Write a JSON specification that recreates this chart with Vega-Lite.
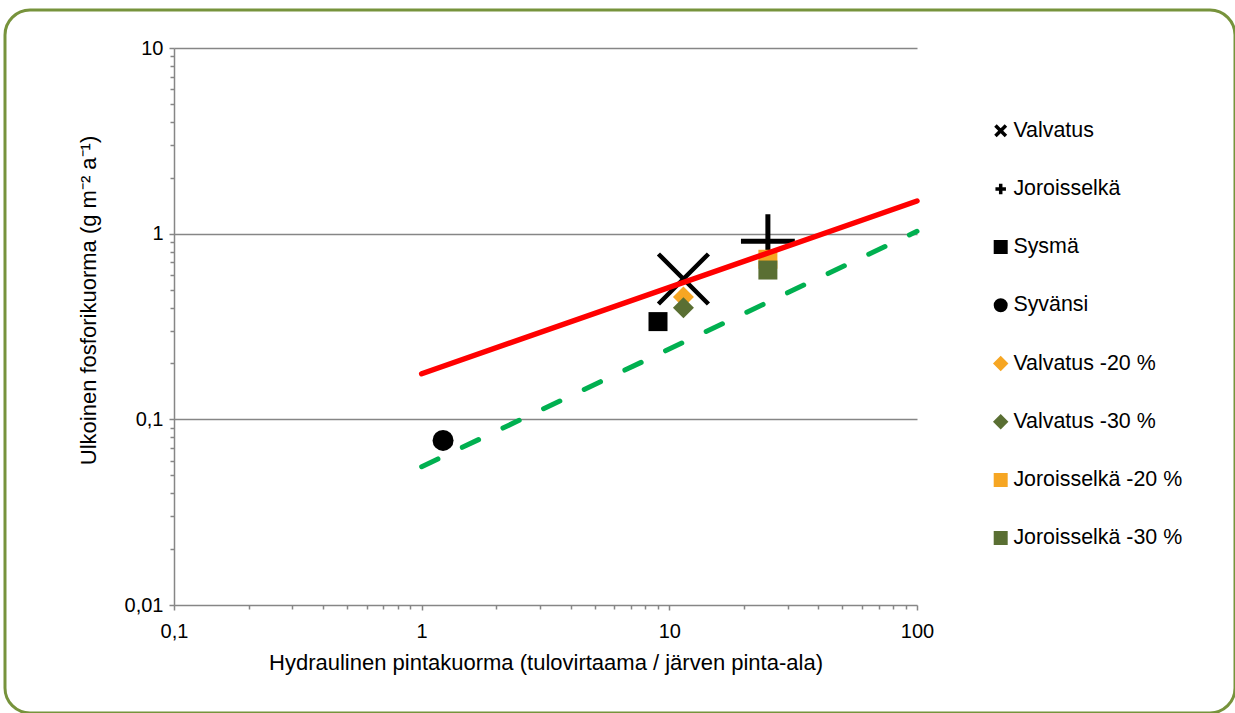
{
  "$schema": "https://vega.github.io/schema/vega-lite/v6.json",
  "autosize": {"type": "none"},
  "width": 1230,
  "height": 703,
  "padding": {"left": 5, "top": 10, "right": 0, "bottom": 0},
  "background": "white",
  "config": {
    "font": "Liberation Sans",
    "view": {"stroke": "#77933C", "strokeWidth": 3, "cornerRadius": 25, "fill": "white"},
    "axis": {
      "domainColor": "#868686",
      "domainWidth": 1.5,
      "tickColor": "#868686",
      "tickWidth": 1.5,
      "gridColor": "#868686",
      "gridWidth": 1.5,
      "labelFont": "Liberation Sans",
      "labelFontSize": 20,
      "labelColor": "#000000",
      "labelOverlap": false,
      "labelFlush": false,
      "titleFont": "Liberation Sans",
      "titleFontSize": 22,
      "titleFontWeight": "normal",
      "titleColor": "#000000"
    },
    "legend": {
      "labelFont": "Liberation Sans",
      "labelFontSize": 21.4,
      "labelColor": "#000000",
      "labelLimit": 400
    }
  },
  "datasets": {
    "points": [
      {"series": "Valvatus", "x": 11.4, "y": 0.57},
      {"series": "Joroisselkä", "x": 25, "y": 0.91},
      {"series": "Sysmä", "x": 9.0, "y": 0.336},
      {"series": "Syvänsi", "x": 1.22, "y": 0.077},
      {"series": "Valvatus -20 %", "x": 11.4, "y": 0.456},
      {"series": "Valvatus -30 %", "x": 11.4, "y": 0.399},
      {"series": "Joroisselkä -20 %", "x": 25, "y": 0.728},
      {"series": "Joroisselkä -30 %", "x": 25, "y": 0.637}
    ],
    "red": [{"x": 1, "y": 0.176}, {"x": 100, "y": 1.5}],
    "green": [{"x": 1, "y": 0.0556}, {"x": 100, "y": 1.03}]
  },
  "layer": [
    {
      "data": {"name": "points"},
      "mark": {"type": "point", "filled": true, "opacity": 1},
      "encoding": {
        "x": {
          "field": "x", "type": "quantitative",
          "scale": {"type": "log", "domain": [0.1, 100], "range": [169, 912]},
          "axis": {
            "title": "Hydraulinen pintakuorma (tulovirtaama / järven pinta-ala)",
            "values": [0.1, 0.2, 0.3, 0.4, 0.5, 0.6, 0.7, 0.8, 0.9, 1, 2, 3, 4, 5, 6, 7, 8, 9, 10, 20, 30, 40, 50, 60, 70, 80, 90, 100],
            "labelExpr": "indexof([0.1, 1, 10, 100], datum.value) >= 0 ? replace(toString(datum.value), '.', ',') : ''",
            "offset": -108,
            "grid": false,
            "tickSize": {"condition": {"test": "indexof([0.1, 1, 10, 100], datum.value) >= 0", "value": 5}, "value": 4},
            "labelPadding": 11,
            "titlePadding": 11
          }
        },
        "y": {
          "field": "y", "type": "quantitative",
          "scale": {"type": "log", "domain": [0.01, 10], "range": [595, 38]},
          "axis": {
            "title": "Ulkoinen fosforikuorma (g m⁻² a⁻¹)",
            "values": [0.01, 0.02, 0.03, 0.04, 0.05, 0.06, 0.07, 0.08, 0.09, 0.1, 0.2, 0.3, 0.4, 0.5, 0.6, 0.7, 0.8, 0.9, 1, 2, 3, 4, 5, 6, 7, 8, 9, 10],
            "labelExpr": "indexof([0.01, 0.1, 1, 10], datum.value) >= 0 ? replace(toString(datum.value), '.', ',') : ''",
            "offset": -169,
            "grid": true,
            "gridOpacity": {"condition": {"test": "indexof([0.1, 1, 10], datum.value) >= 0", "value": 1}, "value": 0},
            "tickSize": {"condition": {"test": "indexof([0.01, 0.1, 1, 10], datum.value) >= 0", "value": 5}, "value": 4},
            "labelPadding": 6,
            "titleX": -86,
            "titleY": 290,
            "titleAngle": -90,
            "titleBaseline": "middle",
            "titleAlign": "center"
          }
        },
        "shape": {
          "field": "series", "type": "nominal",
          "scale": {
            "domain": ["Valvatus", "Joroisselkä", "Sysmä", "Syvänsi", "Valvatus -20 %", "Valvatus -30 %", "Joroisselkä -20 %", "Joroisselkä -30 %"],
            "range": ["M-1,-1L1,1M-1,1L1,-1", "M-1,0L1,0M0,-1L0,1", "square", "circle", "diamond", "diamond", "square", "square"]
          },
          "legend": {"title": ".", "titleOpacity": 0, "titleFontSize": 8, "titlePadding": 50, "orient": "top-right", "offset": 52, "symbolSize": 110, "symbolStrokeWidth": 3.5, "rowPadding": 33.2, "labelOffset": 2}
        },
        "fill": {
          "field": "series", "type": "nominal",
          "scale": {
            "domain": ["Valvatus", "Joroisselkä", "Sysmä", "Syvänsi", "Valvatus -20 %", "Valvatus -30 %", "Joroisselkä -20 %", "Joroisselkä -30 %"],
            "range": ["#000000", "#000000", "#000000", "#000000", "#F6A623", "#5A6F33", "#F6A623", "#5A6F33"]
          },
          "legend": {"title": ".", "titleOpacity": 0, "titleFontSize": 8, "titlePadding": 50, "orient": "top-right", "offset": 52, "symbolSize": 110, "symbolStrokeWidth": 3.5, "rowPadding": 33.2, "labelOffset": 2}
        },
        "stroke": {
          "field": "series", "type": "nominal",
          "scale": {
            "domain": ["Valvatus", "Joroisselkä", "Sysmä", "Syvänsi", "Valvatus -20 %", "Valvatus -30 %", "Joroisselkä -20 %", "Joroisselkä -30 %"],
            "range": ["#000000", "#000000", "#000000", "#000000", "#F6A623", "#5A6F33", "#F6A623", "#5A6F33"]
          },
          "legend": {"title": ".", "titleOpacity": 0, "titleFontSize": 8, "titlePadding": 50, "orient": "top-right", "offset": 52, "symbolSize": 110, "symbolStrokeWidth": 3.5, "rowPadding": 33.2, "labelOffset": 2}
        },
        "size": {
          "condition": [
            {"test": "datum.series === 'Valvatus'", "value": 2500},
            {"test": "datum.series === 'Joroisselkä'", "value": 2900},
            {"test": "datum.series === 'Sysmä' || datum.series === 'Joroisselkä -20 %' || datum.series === 'Joroisselkä -30 %'", "value": 361}
          ],
          "value": 441
        },
        "strokeWidth": {
          "condition": [
            {"test": "datum.series === 'Valvatus'", "value": 4.5},
            {"test": "datum.series === 'Joroisselkä'", "value": 5}
          ],
          "value": 0
        }
      }
    },
    {
      "data": {"name": "red"},
      "mark": {"type": "line", "color": "#FF0000", "strokeWidth": 5.5, "strokeCap": "round"},
      "encoding": {
        "x": {"field": "x", "type": "quantitative"},
        "y": {"field": "y", "type": "quantitative"}
      }
    },
    {
      "data": {"name": "green"},
      "mark": {"type": "line", "color": "#00B050", "strokeWidth": 5, "strokeCap": "round", "strokeDash": [18, 27]},
      "encoding": {
        "x": {"field": "x", "type": "quantitative"},
        "y": {"field": "y", "type": "quantitative"}
      }
    }
  ]
}
